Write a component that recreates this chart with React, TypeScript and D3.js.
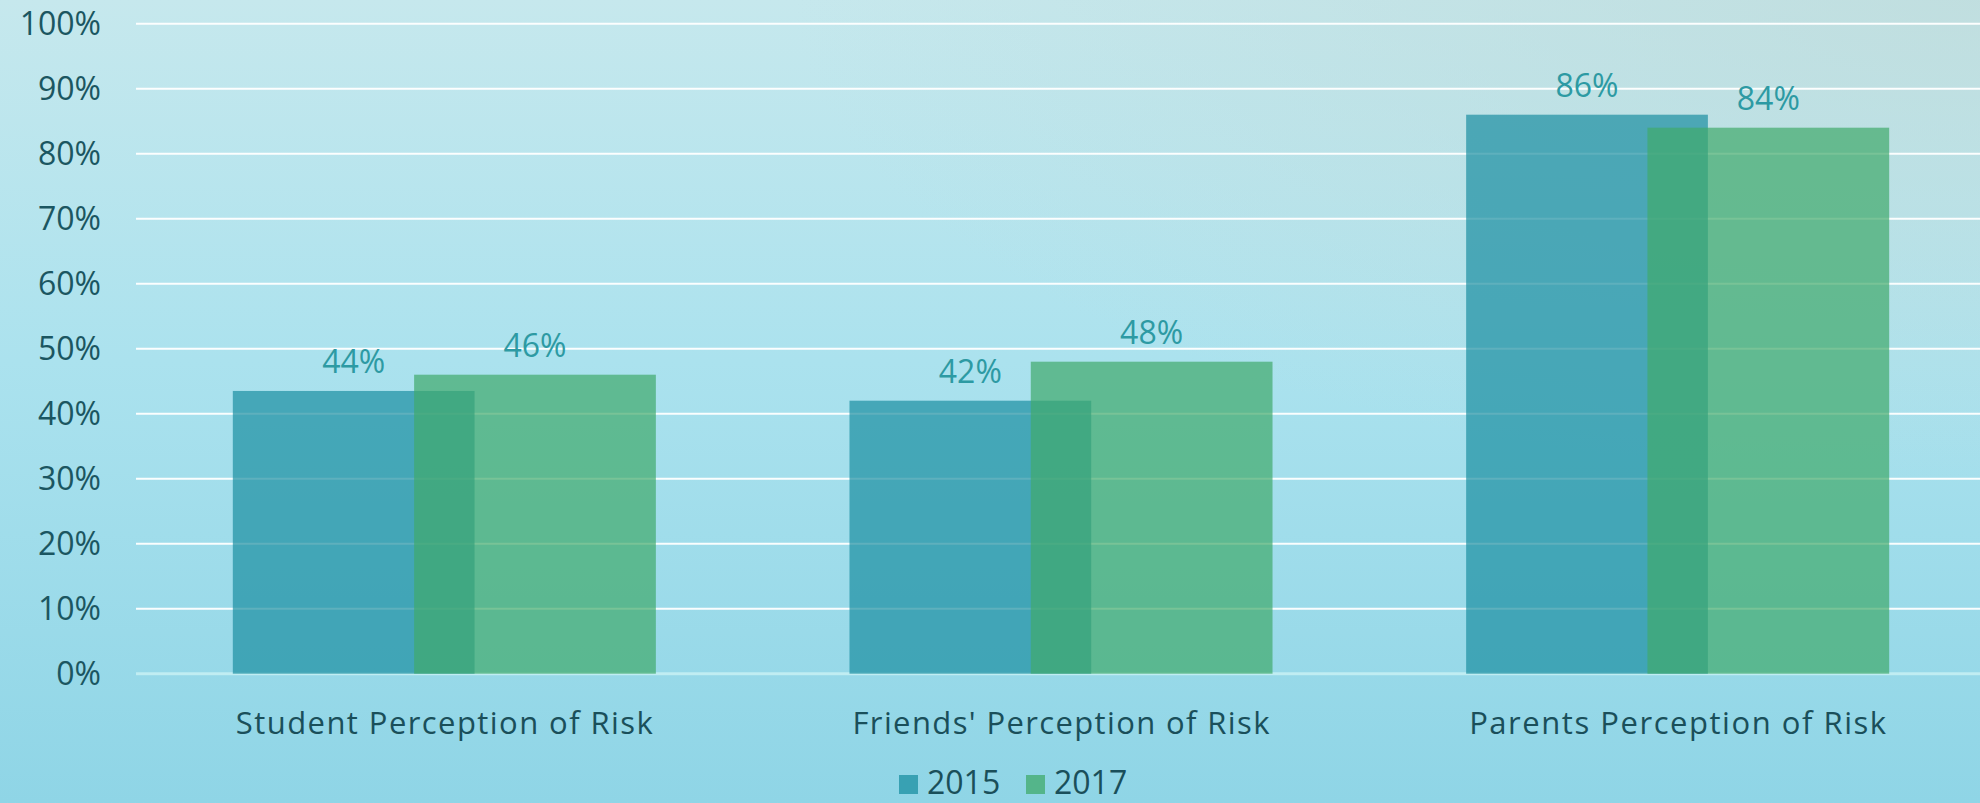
import React from 'react'
import * as d3 from 'd3'

const W = 1980
const H = 803
const MARGIN = { top: 23.7, right: -6, bottom: 129.3, left: 136 }

const categories = ['Student Perception of Risk', "Friends' Perception of Risk", 'Parents Perception of Risk']
const series = ['2015', '2017']
const values2015 = [43.5, 42, 86]
const values2017 = [46, 48, 84]
const yTicks = [0, 10, 20, 30, 40, 50, 60, 70, 80, 90, 100]

const COLORS = ['#1b8fa1', '#40a96b']
const LABEL_FONT = '"Open Sans", "Noto Sans", sans-serif'

export default function App() {
  const plotW = W - MARGIN.left - MARGIN.right
  const plotH = H - MARGIN.top - MARGIN.bottom

  const x0 = d3.scaleBand<string>()
    .domain(categories)
    .range([0, plotW])
    .paddingInner(0.314)
    .paddingOuter(0.157)

  // bars overlap: second bar starts at 75% of the first bar's width
  const barW = x0.bandwidth() / 1.75
  const x1 = d3.scaleLinear().domain([0, 1]).range([0, barW * 0.75])

  const y = d3.scaleLinear().domain([0, 100]).range([plotH, 0])

  const seriesValues = [values2015, values2017]

  return (
    <svg width={W} height={H} style={{ position: 'absolute', left: 0, top: 0, display: 'block' }}>
      <defs>
        <linearGradient id="bg" x1="0" y1="0" x2="0" y2="1">
          <stop offset="0%" stopColor="#c6e8ed" />
          <stop offset="45%" stopColor="#abe2ee" />
          <stop offset="100%" stopColor="#8fd5e6" />
        </linearGradient>
        <radialGradient id="tint" cx="1" cy="0" r="0.6">
          <stop offset="0%" stopColor="#bfdcdc" stopOpacity={0.8} />
          <stop offset="100%" stopColor="#bfdcdc" stopOpacity={0} />
        </radialGradient>
      </defs>
      <rect width={W} height={H} fill="url(#bg)" />
      <rect width={W} height={H} fill="url(#tint)" />

      <g transform={`translate(${MARGIN.left},${MARGIN.top})`}>
        {/* grid */}
        {yTicks.map(t => (
          <line
            key={t}
            x1={0}
            x2={plotW}
            y1={y(t)}
            y2={y(t)}
            stroke={t === 0 ? '#c4eef3' : '#ffffff'}
            strokeWidth={t === 0 ? 3 : 2}
            strokeOpacity={t === 0 ? 0.9 : 0.95}
          />
        ))}

        {/* y labels */}
        {yTicks.map(t => (
          <text
            key={t}
            x={-35}
            y={y(t)}
            dy="0.36em"
            textAnchor="end"
            fontFamily={LABEL_FONT}
            fontSize={32}
            fill="#1b5661"
          >
            {t}%
          </text>
        ))}

        {/* bars */}
        {categories.map((c, ci) => (
          <g key={c} transform={`translate(${x0(c)},0)`}>
            {series.map((s, si) => {
              const v = seriesValues[si][ci]
              return (
                <rect
                  key={s}
                  x={x1(si)}
                  y={y(v)}
                  width={barW}
                  height={plotH - y(v)}
                  fill={COLORS[si]}
                  fillOpacity={0.7}
                />
              )
            })}
            {series.map((s, si) => {
              const v = seriesValues[si][ci]
              return (
                <text
                  key={s}
                  x={x1(si) + barW / 2}
                  y={y(v) - 18}
                  textAnchor="middle"
                  fontFamily={LABEL_FONT}
                  fontSize={32}
                  fill="#2d9aa3"
                >
                  {Math.round(v)}%
                </text>
              )
            })}
          </g>
        ))}

        {/* category labels */}
        {categories.map(c => (
          <text
            key={c}
            x={(x0(c) ?? 0) + x0.bandwidth() / 2}
            y={plotH + 60}
            textAnchor="middle"
            fontFamily={LABEL_FONT}
            fontSize={31}
            fill="#1a4f5a"
            textLength={417}
            lengthAdjust="spacing"
          >
            {c}
          </text>
        ))}
      </g>

      {/* legend */}
      {series.map((s, si) => (
        <g key={s} transform={`translate(${899 + si * 127},775)`}>
          <rect width={19} height={19} fill={COLORS[si]} fillOpacity={0.75} />
          <text x={28} y={19} fontFamily={LABEL_FONT} fontSize={32} fill="#1a4f5a">
            {s}
          </text>
        </g>
      ))}
    </svg>
  )
}
